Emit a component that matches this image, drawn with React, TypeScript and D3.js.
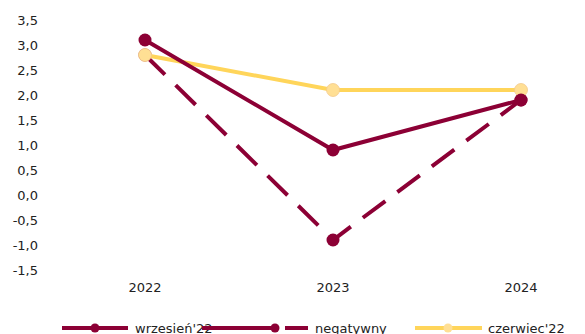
import React from "react";
import * as d3 from "d3";

const categories = ["2022", "2023", "2024"];
const wrzesien = [3.1, 0.9, 1.9];
const negatywny = [2.8, -0.9, 1.9];
const czerwiec = [2.8, 2.1, 2.1];
const yTicks = [3.5, 3.0, 2.5, 2.0, 1.5, 1.0, 0.5, 0.0, -0.5, -1.0, -1.5];

const MAROON = "#8C0035";
const YELLOW = "#FFD55A";
const YELLOW_MARK = "#FFDF94";
const FONT = "'DejaVu Sans', Verdana, sans-serif";

export default function App() {
  const W = 585, H = 334;
  const x = d3.scalePoint<string>().domain(categories).range([145, 521]);
  const y = d3.scaleLinear().domain([-1.5, 3.5]).range([270, 20]);
  const line = d3
    .line<number>()
    .x((_, i) => x(categories[i]) as number)
    .y((d) => y(d));
  const fmt = (v: number) => v.toFixed(1).replace(".", ",");

  const series = [
    { name: "negatywny", data: negatywny, color: MAROON, mark: MAROON, dash: "28,15", ms: "none" },
    { name: "czerwiec'22", data: czerwiec, color: YELLOW, mark: YELLOW_MARK, dash: undefined, ms: "#F2C98A" },
    { name: "wrzesień'22", data: wrzesien, color: MAROON, mark: MAROON, dash: undefined, ms: "none" },
  ];

  const legend = [
    { name: "wrzesień'22", x1: 62, x2: 128, mx: 95, tx: 135, color: MAROON, mark: MAROON, dashed: false },
    { name: "negatywny", x1: 202, x2: 308, mx: 275, tx: 315, color: MAROON, mark: MAROON, dashed: true },
    { name: "czerwiec'22", x1: 415, x2: 482, mx: 448, tx: 488, color: YELLOW, mark: YELLOW_MARK, dashed: false },
  ];
  const LY = 328;

  return (
    <svg
      width={W}
      height={H}
      style={{ position: "absolute", left: 0, top: 0, background: "#fff" }}
      fontFamily={FONT}
    >
      {yTicks.map((t) => (
        <text key={t} x={38} y={y(t)} dy="0.35em" textAnchor="end" fontSize={13} fill="#222">
          {fmt(t)}
        </text>
      ))}
      {categories.map((c) => (
        <text key={c} x={x(c)} y={287} dy="0.35em" textAnchor="middle" fontSize={13} fill="#222">
          {c}
        </text>
      ))}
      {series.map((s) => (
        <g key={s.name}>
          <path
            d={line(s.data) || ""}
            fill="none"
            stroke={s.color}
            strokeWidth={4}
            strokeDasharray={s.dash}
          />
          {s.data.map((v, i) => (
            <circle
              key={i}
              cx={x(categories[i])}
              cy={y(v)}
              r={6.5}
              fill={s.mark}
              stroke={s.ms}
              strokeWidth={0.8}
            />
          ))}
        </g>
      ))}
      {legend.map((l) => (
        <g key={l.name}>
          {l.dashed ? (
            <>
              <line x1={l.x1} x2={l.mx + 4} y1={LY} y2={LY} stroke={l.color} strokeWidth={4} />
              <line x1={l.mx + 10} x2={l.x2} y1={LY} y2={LY} stroke={l.color} strokeWidth={4} />
            </>
          ) : (
            <line x1={l.x1} x2={l.x2} y1={LY} y2={LY} stroke={l.color} strokeWidth={4} />
          )}
          <circle cx={l.mx} cy={LY} r={4.5} fill={l.mark} />
          <text x={l.tx} y={LY} dy="0.35em" fontSize={13} fill="#222">
            {l.name}
          </text>
        </g>
      ))}
    </svg>
  );
}
